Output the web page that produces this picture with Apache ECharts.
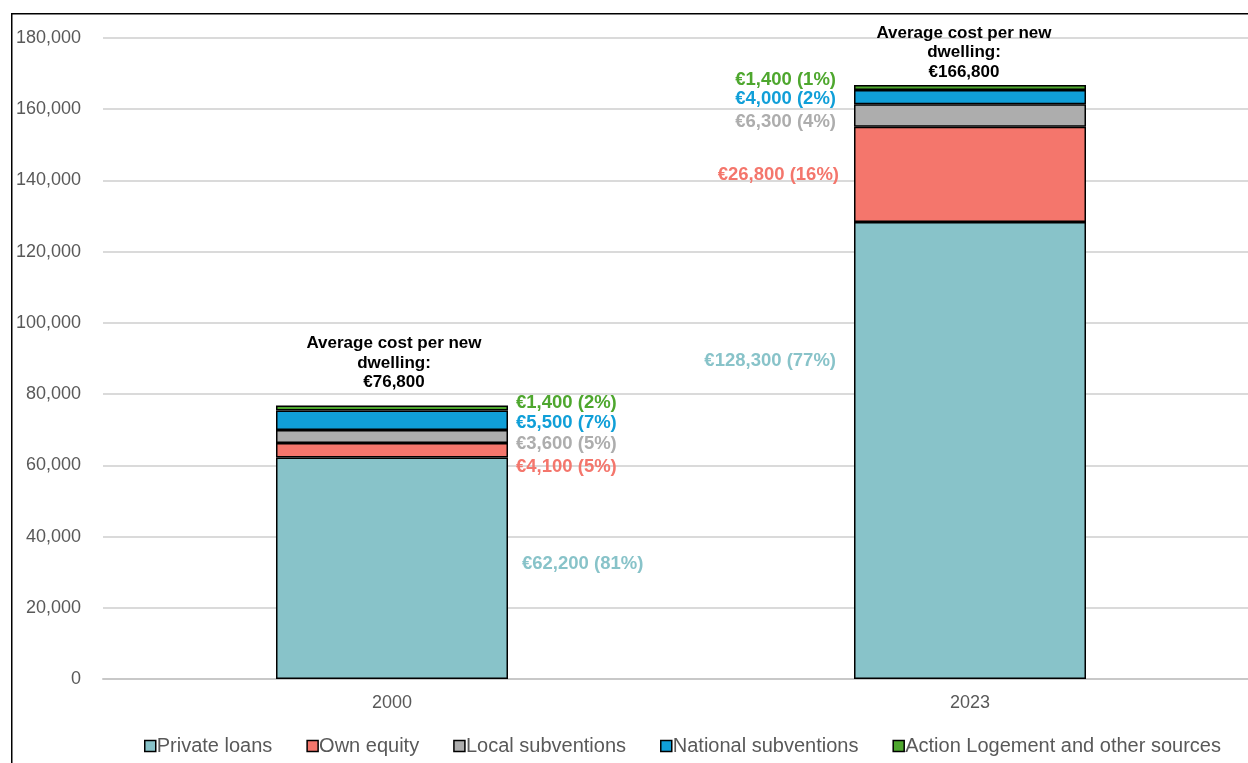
<!DOCTYPE html>
<html>
<head>
<meta charset="utf-8">
<script src="https://cdn.jsdelivr.net/npm/echarts@6/dist/echarts.min.js"></script>
<style>
  html, body { margin: 0; padding: 0; background: #fff; }
  #chart { width: 1248px; height: 763px; }
</style>
</head>
<body>
<div id="chart"></div>
<script>
// Financing of an average new dwelling, by source (euros)
const categories = ['2000', '2023'];
const seriesNames = ['Private loans', 'Own equity', 'Local subventions', 'National subventions', 'Action Logement and other sources'];
const privateLoans = [62200, 128300];
const ownEquity = [4100, 26800];
const localSubventions = [3600, 6300];
const nationalSubventions = [5500, 4000];
const actionLogement = [1400, 1400];
const yAxisMin = 0;
const yAxisMax = 180000;
const yAxisStep = 20000;

const seriesValues = [privateLoans, ownEquity, localSubventions, nationalSubventions, actionLogement];
const seriesColors = ['#88C3C9', '#F4766C', '#ADADAD', '#109FD8', '#4EA72E'];

// Totals per year, derived from the stacked sources
const totals = categories.map((_, i) => seriesValues.reduce((s, arr) => s + arr[i], 0));

// Label placement: 2000 labels sit to the right of the bar, 2023 labels to the left.
// Small pixel nudges keep the labels of thin segments from overlapping.
const labelSide = ['right', 'left'];
const labelNudge = [
  [[6, -4], [0, 16.5], [0, 7.8], [0, 3], [0, -4.7]],
  [[0, -90], [3, 0.6], [0, 6.2], [0, 2.2], [0, -7.5]]
];

const fmtEuro = v => '€' + v.toLocaleString('en-US');
const FONT = '"Liberation Sans", Arial, Helvetica, sans-serif';

const barSeries = seriesNames.map((name, s) => ({
  name: name,
  type: 'bar',
  stack: 'total',
  barWidth: 232,
  itemStyle: { color: seriesColors[s], borderColor: '#000', borderWidth: 1.5 },
  label: {
    show: true,
    fontFamily: FONT,
    fontSize: 18.5,
    fontWeight: 'bold',
    color: seriesColors[s],
    formatter: p => fmtEuro(p.value) + ' (' + Math.round(p.value / totals[p.dataIndex] * 100) + '%)'
  },
  data: seriesValues[s].map((v, i) => ({
    value: v,
    label: {
      position: labelSide[i],
      distance: i === 0 ? 8 : 18,
      offset: labelNudge[i][s]
    }
  }))
}));

// Zero-height cap on each stack carrying the total annotation
const totalOffsets = [[2, -10], [-6, 0]];
const totalSeries = {
  name: 'Total',
  type: 'bar',
  stack: 'total',
  barWidth: 232,
  itemStyle: { color: 'rgba(0,0,0,0)', borderWidth: 0 },
  label: {
    show: true,
    position: 'top',
    distance: 3,
    fontFamily: FONT,
    fontSize: 17,
    fontWeight: 'bold',
    lineHeight: 19.5,
    color: '#000',
    align: 'center',
    formatter: p => 'Average cost per new\ndwelling:\n' + fmtEuro(totals[p.dataIndex])
  },
  data: categories.map((_, i) => ({ value: 0, label: { offset: totalOffsets[i] } }))
};

const chart = echarts.init(document.getElementById('chart'), null, { renderer: 'canvas' });
chart.setOption({
  animation: false,
  backgroundColor: '#fff',
  graphic: [{
    type: 'rect',
    shape: { x: 11.75, y: 13.75, width: 1400, height: 900 },
    style: { fill: 'none', stroke: '#000', lineWidth: 1.5 },
    silent: true
  }],
  grid: { left: 103, right: -11, top: 38, bottom: 84, containLabel: false, outerBoundsMode: 'none' },
  legend: {
    data: seriesNames,
    left: 139,
    top: 731,
    icon: 'rect',
    itemWidth: 11,
    itemHeight: 11,
    itemGap: 34,
    itemStyle: { borderColor: '#000', borderWidth: 1.5 },
    textStyle: { fontFamily: FONT, fontSize: 20, color: '#595959', padding: [0, 0, 0, -4] }
  },
  xAxis: {
    type: 'category',
    data: categories,
    axisTick: { show: false },
    axisLine: { show: true, lineStyle: { color: '#C8C8C8', width: 2 } },
    axisLabel: { fontFamily: FONT, fontSize: 18, color: '#595959', margin: 15 }
  },
  yAxis: {
    type: 'value',
    min: yAxisMin,
    max: yAxisMax,
    interval: yAxisStep,
    axisLine: { show: false },
    axisTick: { show: false },
    splitLine: { lineStyle: { color: '#DADADA', width: 2 } },
    axisLabel: {
      fontFamily: FONT, fontSize: 18, color: '#595959', margin: 22,
      formatter: v => v.toLocaleString('en-US')
    }
  },
  series: barSeries.concat([totalSeries])
});
</script>
</body>
</html>
